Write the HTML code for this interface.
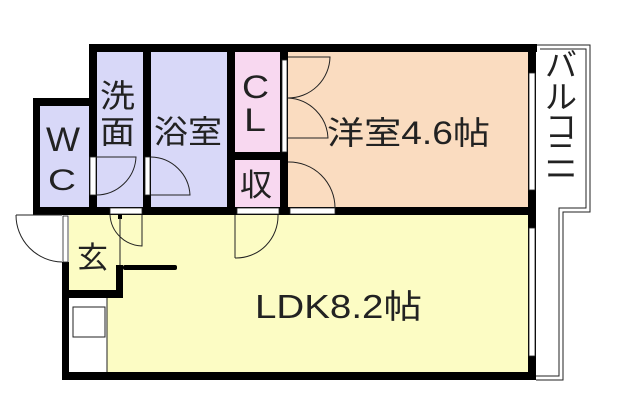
<!DOCTYPE html>
<html><head><meta charset="utf-8"><style>
html,body{margin:0;padding:0;background:#fff;}
svg{display:block}
text{font-family:"Liberation Sans","Noto Sans CJK JP",sans-serif;fill:#222;}
</style></head><body>
<svg width="643" height="404" viewBox="0 0 643 404" xmlns="http://www.w3.org/2000/svg">
<path d="M536 45 H590 V212 H563 V380 H536" fill="#fff" stroke="#222" stroke-width="1"/>
<path d="M540 49 H586 V208 H559 V376 H536" fill="none" stroke="#222" stroke-width="1"/>
<rect x="40" y="105" width="50" height="103" fill="#d8d8f8"/>
<rect x="97" y="52" width="47" height="156" fill="#d8d8f8"/>
<rect x="151" y="52" width="77" height="156" fill="#d8d8f8"/>
<rect x="235" y="52" width="46" height="156" fill="#f8d8f0"/>
<rect x="288" y="52" width="240" height="156" fill="#fadcc0"/>
<rect x="69" y="215" width="459" height="158" fill="#fcfcc4"/>
<rect x="69" y="298" width="38" height="75" fill="#fff"/>
<rect x="73" y="307" width="32" height="30" fill="#fff" stroke="#222" stroke-width="1"/>
<line x1="107" y1="298" x2="107" y2="373" stroke="#222" stroke-width="1"/>
<g fill="#000">
<rect x="89" y="44" width="448" height="8"/>
<rect x="89" y="44" width="8" height="61"/>
<rect x="33" y="98" width="64" height="8"/>
<rect x="33" y="98" width="7" height="117"/>
<rect x="33" y="207" width="503" height="8"/>
<rect x="143" y="52" width="8" height="163"/>
<rect x="227" y="52" width="8" height="163"/>
<rect x="235" y="152" width="46" height="8"/>
<rect x="280" y="52" width="8" height="163"/>
<rect x="528" y="44" width="8" height="336"/>
<rect x="89" y="105" width="8" height="110"/>
<rect x="62" y="262" width="7" height="118"/>
<rect x="62" y="372" width="474" height="8"/>
<rect x="62" y="290" width="61" height="8"/>
<rect x="116" y="265" width="7" height="33"/>
<rect x="123" y="265" width="54" height="5" rx="2"/>
</g>
<g fill="#fff" stroke="#222" stroke-width="0.8">
<rect x="90" y="157" width="6" height="38"/>
<rect x="145" y="157" width="5" height="38"/>
<rect x="282" y="60" width="5" height="92"/>
<rect x="290" y="208" width="45" height="6"/>
<rect x="237" y="208" width="42" height="6"/>
<rect x="110" y="208" width="32" height="6"/>
<rect x="529" y="73" width="6" height="117"/>
<rect x="529" y="228" width="6" height="128"/>
<rect x="63" y="216" width="5" height="46"/>
</g>
<rect x="118" y="214" width="4" height="5" fill="#000"/>
<g fill="none" stroke="#222" stroke-width="1">
<path d="M96 195 A40 40 0 0 0 136 157 L96 157"/>
<path d="M151 195 H190 A40 40 0 0 0 151 157"/>
<path d="M288 98 A42 42 0 0 0 330 57 H288"/>
<path d="M288 98 A42 42 0 0 1 328 138 H288"/>
<path d="M288 162 A46 46 0 0 1 335 208"/>
<path d="M235 258 A42 42 0 0 0 278 215"/>
<line x1="235" y1="215" x2="235" y2="258"/>
<path d="M110 215 A33 33 0 0 0 142 246 V215"/>
<line x1="120" y1="218" x2="120" y2="265"/>
<path d="M16 215 A47 47 0 0 0 62 262"/>
<line x1="16" y1="215" x2="62" y2="215"/>
</g>
<text x="46" y="151" font-size="34" textLength="34" lengthAdjust="spacingAndGlyphs">W</text>
<text x="48" y="190" font-size="30" textLength="28" lengthAdjust="spacingAndGlyphs">C</text>
<text x="100" y="107" font-size="32" textLength="35" lengthAdjust="spacingAndGlyphs">洗</text>
<text x="100" y="143" font-size="32" textLength="35" lengthAdjust="spacingAndGlyphs">面</text>
<text x="154" y="143" font-size="32" textLength="68" lengthAdjust="spacingAndGlyphs">浴室</text>
<text x="242" y="98" font-size="32" textLength="27" lengthAdjust="spacingAndGlyphs">C</text>
<text x="244" y="131" font-size="32" textLength="22" lengthAdjust="spacingAndGlyphs">L</text>
<text x="240" y="196" font-size="31" textLength="32" lengthAdjust="spacingAndGlyphs">収</text>
<text x="327" y="144" font-size="32" textLength="163" lengthAdjust="spacingAndGlyphs">洋室4.6帖</text>
<text x="77" y="268" font-size="30" textLength="31" lengthAdjust="spacingAndGlyphs">玄</text>
<text x="255" y="318" font-size="33" textLength="167" lengthAdjust="spacingAndGlyphs">LDK8.2帖</text>
<text x="561" y="76" font-size="32" text-anchor="middle">バ</text>
<text x="561" y="108" font-size="32" text-anchor="middle">ル</text>
<text x="561" y="138" font-size="32" text-anchor="middle">コ</text>
<text x="561" y="165" font-size="32" text-anchor="middle">ニ</text>
<text x="561" y="187" font-size="32" text-anchor="middle">ー</text>
</svg>
</body></html>
